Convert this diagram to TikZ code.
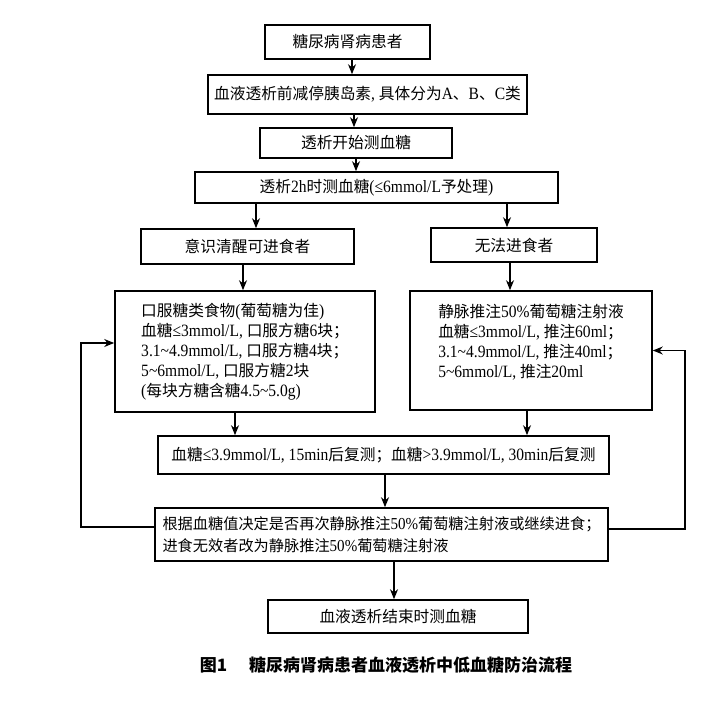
\documentclass[tikz,border=0pt]{standalone}
\usepackage{fontspec}
\setmainfont{Liberation Serif}[Scale=1.1, FakeStretch=0.9]
\newfontfamily\cjk{Noto Sans CJK SC}
\usetikzlibrary{arrows.meta, positioning, calc}
\newcommand{\en}[1]{{\rmfamily #1}}
\newcommand{\til}{\textasciitilde}

\begin{document}
\begin{tikzpicture}[x=1pt, y=-1pt, font=\cjk\fontsize{15.7}{20}\selectfont]
    \tikzstyle{box} = [rectangle, draw, line width=1.6pt, inner sep=0pt, align=center]
    \tikzstyle{arrow} = [line width=1.3pt, -{Stealth[length=10pt, width=8pt]}]
    \useasboundingbox (0,0) rectangle (709,711);

    \node[box, minimum width=165, minimum height=34] (patient) at (347.5,42) {糖尿病肾病患者};
    \node[box, minimum width=319, minimum height=39] (insulin) at (367.5,94.5) {血液透析前减停胰岛素\en{, }具体分为\en{A}、\en{B}、\en{C}类};
    \node[box, minimum width=192, minimum height=30] (start) at (356,143) {透析开始测血糖};
    \node[box, minimum width=363, minimum height=31] (check) at (376.5,187.5) {透析\en{2h}时测血糖\en{(≤6mmol/L}予处理\en{)}};
    \node[box, minimum width=213, minimum height=35] (eat) at (247.5,246.5) {意识清醒可进食者};
    \node[box, minimum width=166, minimum height=34] (noeat) at (514,245) {无法进食者};
    \node[box, align=left, minimum width=260, minimum height=121] (oral) at (245,351.5) {口服糖类食物\en{(}葡萄糖为佳\en{)}\\
        血糖\en{≤3mmol/L, }口服方糖\en{6}块；\\
        \en{3.1\til4.9mmol/L, }口服方糖\en{4}块；\\
        \en{5\til6mmol/L, }口服方糖\en{2}块\\
        \en{(}每块方糖含糖\en{4.5\til5.0g)}};
    \node[box, align=left, minimum width=242, minimum height=119] (iv) at (531,350.5) {静脉推注\en{50\%}葡萄糖注射液\\
        血糖\en{≤3mmol/L, }推注\en{60ml}；\\
        \en{3.1\til4.9mmol/L, }推注\en{40ml}；\\
        \en{5\til6mmol/L, }推注\en{20ml}\\
        \mbox{}};
    \node[box, minimum width=451, minimum height=38] (recheck) at (383.5,455) {血糖\en{≤3.9mmol/L, 15min}后复测；血糖\en{>3.9mmol/L, 30min}后复测};
    \node[box, align=left, inner xsep=5pt, minimum width=453, minimum height=53, font=\cjk\fontsize{15.2}{22}\selectfont] (decide) at (381.5,534.5) {根据血糖值决定是否再次静脉推注\en{50\%}葡萄糖注射液或继续进食；\\
        进食无效者改为静脉推注\en{50\%}葡萄糖注射液};
    \node[box, minimum width=260, minimum height=33] (finish) at (398,616.5) {血液透析结束时测血糖};
    \node[font=\cjk\bfseries\fontsize{17}{20}\selectfont] (caption) at (386,665) {图1\hspace{1.3em}糖尿病肾病患者血液透析中低血糖防治流程};

    \draw[arrow] (patient.south -| 352,0) -- (insulin.north -| 352,0);
    \draw[arrow] (insulin.south -| 354,0) -- (start.north -| 354,0);
    \draw[arrow] (start.south -| 356,0) -- (check.north -| 356,0);
    \draw[arrow] (check.south -| 256,0) -- (eat.north -| 256,0);
    \draw[arrow] (check.south -| 507,0) -- (noeat.north -| 507,0);
    \draw[arrow] (eat.south -| 243,0) -- (oral.north -| 243,0);
    \draw[arrow] (noeat.south -| 510,0) -- (iv.north -| 510,0);
    \draw[arrow] (oral.south -| 235,0) -- (recheck.north -| 235,0);
    \draw[arrow] (iv.south -| 527,0) -- (recheck.north -| 527,0);
    \draw[arrow] (recheck.south -| 385,0) -- (decide.north -| 385,0);
    \draw[arrow] (decide.south -| 394,0) -- (finish.north -| 394,0);

    % feedback loops
    \coordinate (leftloop) at (81,527);
    \coordinate (rightloop) at (685,529);
    \draw[arrow] (decide.west |- leftloop) -- (leftloop) |- (oral.west |- 0,343);
    \draw[arrow] (decide.east |- rightloop) -- (rightloop) |- (iv.east);
\end{tikzpicture}
\end{document}
